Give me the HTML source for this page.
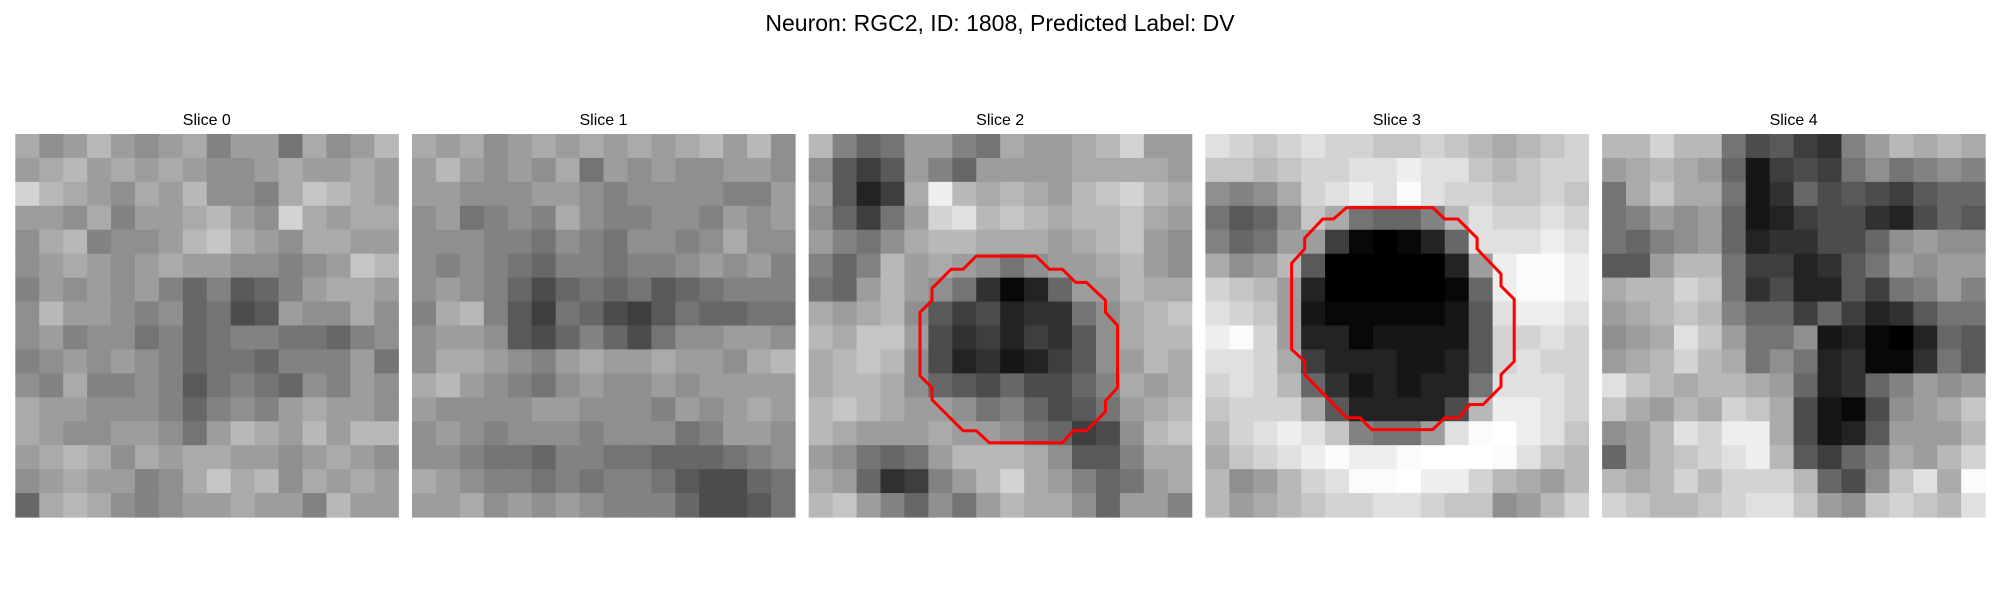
<!DOCTYPE html>
<html><head><meta charset="utf-8">
<style>
html,body{margin:0;padding:0;background:#fff;}
svg{display:block;font-family:"Liberation Sans","DejaVu Sans",sans-serif;}
</style></head>
<body>
<svg id="fig" width="2000" height="600" viewBox="0 0 2000 600">
<rect width="2000" height="600" fill="#fff"/>
<text x="1000" y="31" text-anchor="middle" font-size="23" fill="#000">Neuron: RGC2, ID: 1808, Predicted Label: DV</text>
</svg>
<script>
const sliceTitles = ["Slice 0","Slice 1","Slice 2","Slice 3","Slice 4"];
const slice0 = [
[160,140,150,170,150,140,150,160,130,150,150,120,160,140,150,170],
[150,160,170,150,160,150,160,150,140,140,150,160,150,150,160,150],
[190,170,160,150,140,160,150,170,140,140,130,160,180,170,160,150],
[150,150,140,160,130,150,150,160,170,150,140,190,160,150,160,160],
[140,160,170,130,140,140,150,170,180,160,150,140,160,160,150,150],
[140,150,160,150,140,150,160,150,150,140,140,130,140,150,180,170],
[130,150,140,150,140,150,130,110,130,100,110,130,150,160,160,150],
[140,170,150,150,140,130,140,110,120,90,100,150,140,140,160,140],
[140,150,130,140,140,120,130,110,120,130,130,120,120,110,130,140],
[130,140,150,140,150,140,130,110,120,120,110,130,130,130,150,120],
[140,130,160,130,130,140,130,100,120,130,120,110,140,130,150,140],
[160,150,150,140,140,140,130,110,130,140,130,150,160,150,150,140],
[160,150,140,140,150,150,140,120,150,170,160,150,170,150,170,170],
[150,160,170,160,140,160,150,160,160,150,150,140,150,160,150,140],
[140,150,160,150,150,130,140,160,180,160,170,140,160,150,160,150],
[110,160,170,160,140,130,140,150,150,160,150,150,130,170,150,150]];
const slice1 = [
[160,150,160,140,150,160,150,160,150,160,150,160,170,150,170,140],
[150,170,150,140,150,140,160,120,150,140,150,140,140,150,150,140],
[150,150,140,140,140,150,150,140,130,140,140,140,140,130,130,150],
[140,150,120,130,140,130,160,140,130,130,140,140,130,150,140,150],
[140,140,140,130,130,120,140,130,120,140,140,130,140,160,140,140],
[140,130,140,130,120,110,130,130,120,130,130,140,150,140,150,130],
[140,150,140,130,110,90,110,120,110,120,100,110,120,130,130,130],
[130,160,170,130,100,80,120,110,90,80,100,120,110,110,120,120],
[140,150,150,140,100,90,110,130,110,90,120,140,140,150,150,140],
[140,160,160,150,140,130,150,160,150,150,160,150,150,140,160,170],
[160,170,150,140,130,120,140,150,140,140,150,140,150,150,150,150],
[150,140,140,140,140,150,150,140,140,140,130,150,140,150,160,150],
[140,150,140,130,140,140,140,130,140,140,140,120,130,150,150,140],
[140,140,130,120,120,110,130,130,120,120,110,110,110,120,130,140],
[160,150,140,130,130,120,130,120,130,130,120,100,90,90,110,120],
[150,150,160,140,150,140,150,140,130,130,130,110,90,90,100,120]];
const slice2 = [
[170,130,110,120,150,150,130,120,160,150,150,160,170,190,150,150],
[140,100,80,100,150,130,110,150,150,150,150,160,160,160,160,150],
[150,100,60,80,160,210,170,160,170,160,150,170,180,190,170,160],
[140,110,80,120,150,190,200,170,180,170,160,170,170,180,160,150],
[150,130,120,140,160,170,170,160,160,160,150,160,170,180,150,140],
[130,110,130,170,150,160,150,140,120,140,150,150,160,170,150,140],
[120,110,150,170,150,140,120,70,40,60,110,150,150,170,160,160],
[160,150,160,170,140,100,80,90,60,70,70,120,140,160,170,180],
[170,160,180,180,150,90,70,80,60,80,70,100,140,160,170,170],
[160,170,180,170,140,90,60,70,50,60,80,100,140,150,170,160],
[160,170,170,160,140,110,100,90,110,90,90,110,130,160,150,160],
[170,180,170,160,150,150,140,120,130,110,90,100,120,150,160,170],
[170,160,150,150,150,160,150,150,140,120,110,80,90,140,170,180],
[150,140,120,110,120,150,170,170,170,160,140,100,100,130,160,160],
[160,150,110,70,80,130,150,170,190,160,150,130,110,120,150,160],
[170,180,150,130,110,140,120,150,170,160,160,140,110,150,150,130]];
const slice3 = [
[200,190,180,190,200,190,190,180,180,190,180,170,160,170,180,190],
[180,180,170,180,190,190,200,200,210,200,200,180,170,180,190,190],
[140,130,140,160,190,200,210,200,220,200,190,190,180,180,190,180],
[120,100,110,140,180,160,120,110,110,130,170,200,190,190,200,190],
[130,110,120,150,150,80,40,30,40,60,110,200,200,200,210,200],
[160,140,150,170,100,30,20,20,20,30,60,150,210,220,220,210],
[190,180,170,150,60,30,20,20,20,30,40,110,210,220,220,210],
[200,190,180,150,50,40,40,40,40,40,50,100,200,210,210,200],
[210,220,190,150,60,60,40,50,50,50,50,100,190,190,200,190],
[200,200,190,160,80,60,60,60,50,50,60,100,190,200,190,190],
[190,200,190,170,110,70,50,60,50,60,60,120,200,200,200,190],
[180,190,190,190,160,100,60,60,60,60,90,170,210,210,200,190],
[170,190,200,210,200,180,130,120,120,150,200,220,230,210,200,180],
[160,180,190,200,210,220,210,210,220,230,240,240,220,200,180,170],
[170,140,150,170,190,200,220,220,230,210,210,190,170,160,150,170],
[170,150,160,170,180,190,190,200,200,190,180,180,140,150,170,190]];
const slice4 = [
[170,170,190,170,170,120,90,100,80,70,130,150,170,160,170,160],
[150,160,170,160,150,110,50,80,90,80,120,140,120,130,140,130],
[120,160,180,160,160,120,50,70,110,90,100,90,80,100,110,110],
[120,130,150,140,150,110,50,60,80,90,90,70,60,90,110,100],
[120,110,130,140,150,110,60,70,70,90,90,110,140,150,140,140],
[100,100,150,170,170,120,80,80,60,70,100,120,150,140,150,150],
[160,170,170,190,180,120,70,90,60,60,100,80,120,130,150,130],
[150,160,170,180,170,130,110,110,80,110,80,60,70,100,120,120],
[140,150,160,200,180,150,120,120,140,50,60,40,20,60,110,100],
[150,160,170,190,170,160,120,140,120,60,70,40,40,70,120,100],
[200,180,170,160,170,170,160,150,110,60,70,110,130,150,140,150],
[180,160,150,170,160,190,180,160,90,50,40,90,140,150,160,180],
[140,150,170,200,190,210,210,160,90,50,60,100,150,150,150,170],
[110,150,170,180,190,200,210,170,100,80,110,130,160,150,170,190],
[170,160,170,190,170,190,190,190,170,110,90,140,180,200,160,220],
[190,180,170,170,180,190,200,200,180,150,140,180,190,180,170,200]];
const slices = [slice0, slice1, slice2, slice3, slice4];
const contour2X = [14.0,19.0,20.1,21.2,22.3,23.2,24.8,24.8,25.8,25.8,24.8,24.8,23.2,22.1,21.2,15.1,14.0,12.9,10.3,10.3,9.3,9.3,10.3,10.3,11.9,12.9];
const contour2Y = [10.2,10.2,11.3,11.3,12.4,12.4,13.9,14.9,16.0,21.2,22.3,23.2,24.8,24.8,25.8,25.8,24.8,24.8,22.2,21.2,20.2,14.9,13.9,12.9,11.3,11.3];
const contour3X = [11.8,19.0,20.0,21.1,22.7,22.7,24.7,24.7,25.8,25.8,24.7,24.7,23.2,22.1,21.2,20.0,19.0,13.9,12.9,11.8,8.3,8.3,7.2,7.2,8.3,8.3,9.8,10.7];
const contour3Y = [6.15,6.15,7.1,7.1,8.7,9.6,11.7,12.7,13.8,19.0,20.1,21.1,22.6,22.6,23.7,23.7,24.7,24.7,23.7,23.7,20.1,19.0,18.0,10.8,9.6,8.7,7.1,7.1];
const contours = {2:[contour2X,contour2Y], 3:[contour3X,contour3Y]};

const NS = "http://www.w3.org/2000/svg";
const svg = document.getElementById("fig");
const panelX0 = 15.3, panelStep = 396.7, panelY = 134, panelSize = 383, imgPx = 32;
function px(i){ return panelX0 + i*panelStep; }
function gx(i, v){ return px(i) + v/imgPx*panelSize; }
function gy(v){ return panelY + v/imgPx*panelSize; }
function shade(v){ return Math.max(0, Math.min(255, Math.round(150 + (v-145)*1.35))); }

slices.forEach((grid, i) => {
  const g = document.createElementNS(NS, "g");
  
  
  svg.appendChild(g);
  const t = document.createElementNS(NS, "text");
  
  
  t.setAttribute("x", px(i) + panelSize/2);
  t.setAttribute("y", 125);
  t.setAttribute("text-anchor", "middle");
  t.setAttribute("font-size", "16");
  t.textContent = sliceTitles[i];
  g.appendChild(t);
  const n = grid.length, cs = panelSize / n;
  grid.forEach((row, r) => row.forEach((v, c) => {
    const s = shade(v);
    const rect = document.createElementNS(NS, "rect");
    
    
    rect.setAttribute("x", px(i) + c*cs);
    rect.setAttribute("y", panelY + r*cs);
    rect.setAttribute("width", cs + 0.6);
    rect.setAttribute("height", cs + 0.6);
    rect.setAttribute("fill", `rgb(${s},${s},${s})`);
    g.appendChild(rect);
  }));
  if (contours[i]) {
    const [xs, ys] = contours[i];
    const pts = xs.map((x, k) => gx(i, x).toFixed(1) + "," + gy(ys[k]).toFixed(1)).join(" ");
    const poly = document.createElementNS(NS, "polygon");
    
    
    poly.setAttribute("points", pts);
    poly.setAttribute("fill", "none");
    poly.setAttribute("stroke", "#ff0000");
    poly.setAttribute("stroke-width", "3");
    g.appendChild(poly);
  }
});
</script>
</body></html>
